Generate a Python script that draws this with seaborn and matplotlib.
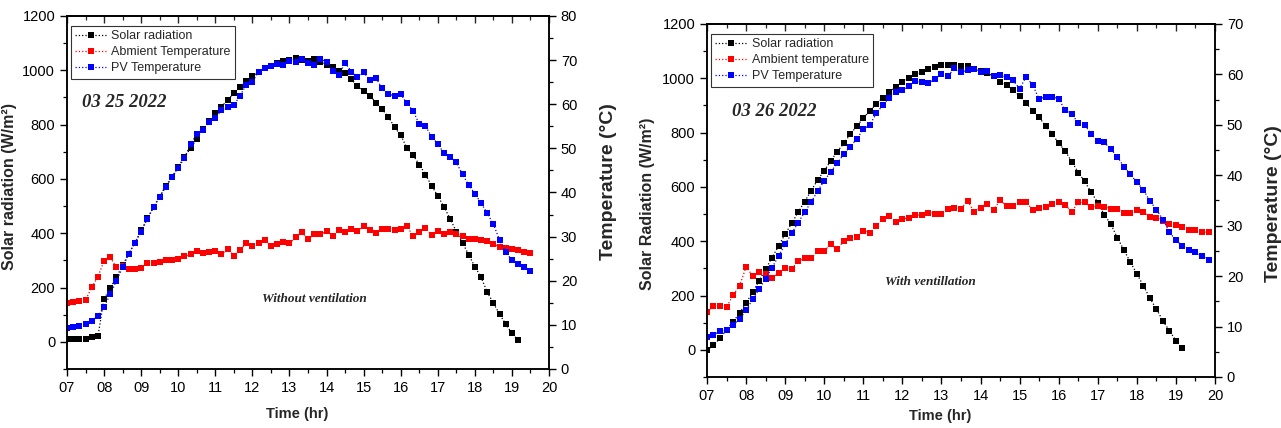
import numpy as np
import matplotlib
matplotlib.use("Agg")
import matplotlib.pyplot as plt
import seaborn as sns
from matplotlib.ticker import MultipleLocator, FuncFormatter, NullFormatter

sns.set_theme(style="ticks")
plt.rcParams['font.family'] = ['Liberation Sans', 'DejaVu Sans']

# ---------------- data ----------------
START_HR = 7.0
STEP_HR = 1 / 6  # 10-minute sampling

solar_0325 = [10, 10, 11, 12, 17, 20,
              158, 198, 238, 282, 325, 365,
              410, 455, 495, 535, 575, 608,
              645, 680, 713, 748, 782, 812,
              842, 866, 891, 915, 937, 960,
              978, 995, 1007, 1017, 1026, 1034,
              1038, 1046, 1038, 1034, 1040, 1032,
              1019, 1011, 997, 989, 967, 942,
              925, 907, 881, 856, 829, 790,
              761, 714, 687, 653, 616, 575,
              537, 497, 453, 406, 365, 320,
              277, 238, 183, 142, 102, 65,
              31, 6]
amb_0325 = [15.0, 15.1, 15.4, 15.6, 18.5, 20.9,
            24.5, 25.3, 23.0, 23.4, 22.6, 22.6,
            22.8, 24.0, 24.1, 24.2, 24.6, 24.6,
            25.0, 25.5, 26.0, 26.7, 26.2, 26.4,
            26.7, 26.0, 27.1, 25.7, 27.0, 28.5,
            27.9, 28.5, 29.2, 27.9, 28.3, 28.8,
            28.5, 29.8, 31.0, 29.4, 30.5, 30.5,
            31.2, 30.2, 31.5, 31.0, 31.7, 31.3,
            32.3, 31.4, 30.9, 31.7, 31.7, 31.5,
            31.7, 32.4, 30.1, 31.0, 31.9, 30.4,
            31.3, 30.5, 31.0, 30.6, 30.1, 29.5,
            29.4, 29.2, 28.9, 28.3, 27.7, 27.5,
            27.1, 27.0, 26.5, 26.2]
pv_0325 = [9.2, 9.4, 9.7, 10.1, 10.9, 12.0,
           14.1, 16.9, 20.0, 23.0, 26.1, 28.6,
           31.1, 34.0, 36.6, 39.0, 41.3, 43.4,
           45.6, 47.8, 51.0, 53.2, 54.2, 56.0,
           56.8, 58.7, 59.3, 59.8, 61.9, 64.4,
           65.1, 67.4, 68.1, 68.7, 69.1, 68.9,
           69.9, 69.6, 70.2, 69.3, 68.9, 70.2,
           69.6, 67.5, 66.6, 69.4, 67.4, 66.1,
           67.2, 65.5, 65.9, 63.6, 62.3, 61.9,
           62.3, 60.2, 58.5, 55.5, 55.1, 52.6,
           51.0, 48.9, 48.1, 46.8, 44.1, 41.7,
           39.7, 37.6, 35.3, 32.8, 29.2, 26.4,
           24.7, 23.8, 23.0, 22.1]

solar_0326 = [0, 16, 43, 74, 103, 135,
              172, 212, 254, 297, 340, 383,
              426, 466, 507, 546, 586, 626,
              660, 696, 730, 760, 794, 824,
              853, 880, 905, 929, 948, 969,
              985, 1000, 1016, 1024, 1034, 1043,
              1049, 1049, 1050, 1045, 1045, 1034,
              1027, 1018, 1009, 988, 976, 956,
              936, 908, 880, 856, 824, 795,
              761, 732, 693, 653, 620, 580,
              542, 497, 463, 413, 368, 323,
              280, 236, 190, 150, 107, 70,
              34, 6]
amb_0326 = [12.8, 14.1, 14.0, 13.9, 16.2, 18.1,
            21.8, 20.1, 20.8, 20.4, 19.7, 20.6,
            21.6, 21.4, 23.0, 23.5, 23.5, 24.9,
            25.0, 26.3, 25.3, 27.0, 27.6, 27.8,
            29.0, 28.6, 30.0, 31.3, 32.0, 30.7,
            31.3, 31.6, 32.1, 32.1, 32.6, 32.4,
            32.3, 33.4, 33.5, 33.4, 34.9, 32.8,
            33.6, 34.4, 33.1, 35.1, 33.9, 33.9,
            34.6, 34.6, 33.2, 33.5, 33.7, 34.4,
            34.6, 34.1, 32.8, 34.6, 34.6, 33.7,
            33.9, 33.7, 33.4, 33.4, 32.6, 32.6,
            33.2, 32.8, 31.8, 31.6, 31.0, 30.4,
            30.1, 29.8, 29.1, 29.1, 28.7, 28.7]
pv_0326 = [7.9, 8.3, 9.1, 9.3, 10.3, 11.5,
           13.2, 15.4, 17.4, 19.5, 21.7, 24.0,
           26.3, 28.5, 30.6, 32.7, 34.7, 36.9,
           38.9, 40.7, 42.4, 44.2, 45.7, 47.2,
           49.1, 50.0, 52.3, 53.9, 55.4, 56.5,
           56.9, 57.7, 58.7, 58.4, 58.2, 59.1,
           60.0, 59.7, 61.2, 60.4, 60.9, 61.1,
           60.5, 60.7, 59.7, 59.9, 59.4, 58.8,
           57.2, 59.5, 57.9, 55.1, 55.6, 55.6,
           55.1, 52.9, 52.1, 50.4, 50.0, 48.1,
           46.8, 46.5, 45.2, 43.7, 41.7, 40.2,
           38.6, 37.1, 34.9, 33.2, 31.2, 28.7,
           27.1, 26.0, 25.1, 24.7, 24.0, 23.2]

legend_0325 = ["Solar radiation", "Abmient Temperature", "PV Temperature"]
legend_0326 = ["Solar radiation", "Ambient temperature", "PV Temperature"]
x_ticks = list(range(7, 21))


def hours(n):
    return START_HR + STEP_HR * np.arange(n)


# ---------------- figure ----------------
fig = plt.figure(figsize=(12.81, 4.28), dpi=100)
axL = fig.add_axes([0.0523, 0.1379, 0.3763, 0.8248])
axR = fig.add_axes([0.5519, 0.1192, 0.3966, 0.8248])

LINE_KW = dict(marker='s', linestyle=':', linewidth=0.9, markersize=4.6,
               markeredgewidth=0)
RED = '#ff0000'
BLUE = '#0000ff'


def panel(ax, solar, amb, pv, labels, tmax, solar_label, date_txt, date_xy,
          note_txt, note_xy, leg_anchor, xlabel_xy, ylabel_xy, tlabel_xy):
    ax2 = ax.twinx()
    sns.lineplot(x=hours(len(solar)), y=solar, ax=ax, color='black',
                 legend=False, **LINE_KW)
    h_solar = ax.lines[-1]
    sns.lineplot(x=hours(len(amb)), y=amb, ax=ax2, color=RED,
                 legend=False, **LINE_KW)
    h_amb = ax2.lines[-1]
    sns.lineplot(x=hours(len(pv)), y=pv, ax=ax2, color=BLUE,
                 legend=False, **LINE_KW)
    h_pv = ax2.lines[-1]

    ax.set_xlim(7, 20)
    ax.set_ylim(-100, 1200)
    ax.set_yticks(list(range(0, 1201, 200)))
    ax.yaxis.set_minor_locator(MultipleLocator(100))
    ax.set_xticks(x_ticks)
    ax.xaxis.set_minor_locator(MultipleLocator(0.5))
    ax.xaxis.set_major_formatter(FuncFormatter(lambda v, p: f"{int(round(v)):02d}"))
    ax2.set_ylim(0, tmax)
    ax2.yaxis.set_major_locator(MultipleLocator(10))
    ax2.yaxis.set_minor_locator(MultipleLocator(5))

    for a in (ax, ax2):
        for s in a.spines.values():
            s.set_linewidth(1.1)
            s.set_color('black')
        a.tick_params(which='major', direction='out', length=5, width=1.0,
                      labelsize=10.5, pad=3.5, colors='black')
        a.tick_params(which='minor', direction='out', length=3, width=0.9,
                      colors='black')
        a.grid(False)

    sec = ax.secondary_xaxis('top')
    sec.set_xticks(x_ticks)
    sec.xaxis.set_minor_locator(MultipleLocator(0.5))
    sec.xaxis.set_major_formatter(NullFormatter())
    sec.tick_params(which='major', direction='in', length=5, width=1.0)
    sec.tick_params(which='minor', direction='in', length=3, width=0.9)
    sec.spines['top'].set_linewidth(1.1)

    ax.set_xlabel("Time (hr)", fontsize=10.5, fontweight='bold')
    ax.xaxis.set_label_coords(*xlabel_xy)
    ax.set_ylabel(solar_label, fontsize=11.5, fontweight='bold')
    ax.yaxis.set_label_coords(*ylabel_xy)
    ax2.set_ylabel("Temperature (°C)", fontsize=14, fontweight='bold',
                   rotation=90)
    ax2.yaxis.set_label_coords(*tlabel_xy)

    ax.text(date_xy[0], date_xy[1], date_txt, transform=ax.transAxes,
            family=['Liberation Serif'], style='italic', fontweight='bold',
            fontsize=13.5, ha='left', va='center')
    ax.text(note_xy[0], note_xy[1], note_txt, transform=ax.transAxes,
            family=['Liberation Serif'], style='italic', fontweight='bold',
            fontsize=9.5, ha='left', va='center')

    leg = ax2.legend([h_solar, h_amb, h_pv], labels, loc='upper left',
                     bbox_to_anchor=leg_anchor, borderaxespad=0,
                     fontsize=9, frameon=True, fancybox=False,
                     edgecolor='black', handlelength=2.5, labelspacing=0.32,
                     borderpad=0.35, handletextpad=0.4, numpoints=1)
    leg.get_frame().set_linewidth(0.8)
    leg.get_frame().set_facecolor('white')


panel(axL, solar_0325, amb_0325, pv_0325, legend_0325, 80,
      "Solar radiation (W/m²)", "03 25 2022", (0.031, 0.754),
      "Without ventilation", (0.405, 0.198), (0.008, 0.972),
      (0.477, -0.108), (-0.104, 0.518), (1.106, 0.53))
panel(axR, solar_0326, amb_0326, pv_0326, legend_0326, 70,
      "Solar Radiation (W/m²)", "03 26 2022", (0.049, 0.751),
      "With ventillation", (0.350, 0.269), (0.008, 0.972),
      (0.459, -0.092), (-0.102, 0.49), (1.098, 0.49))

fig.savefig("out.png", dpi=100)
